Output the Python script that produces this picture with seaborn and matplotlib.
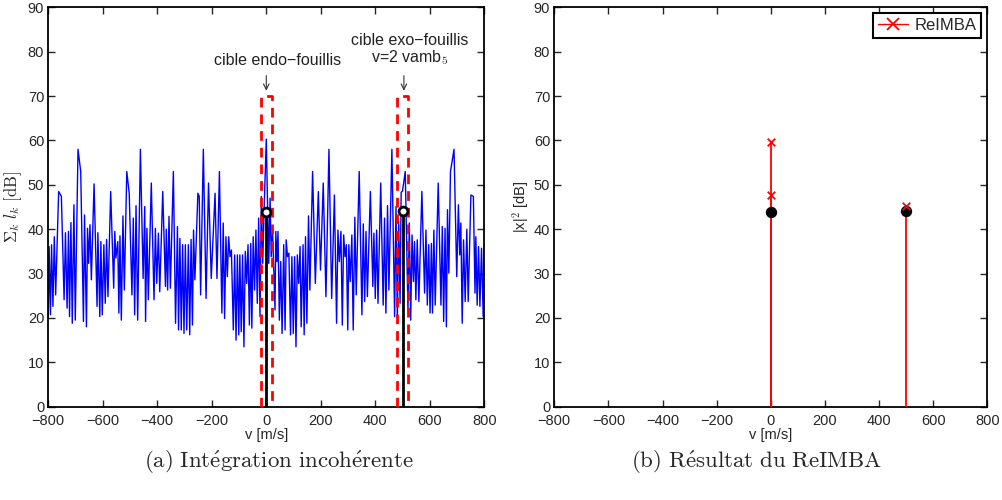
import numpy as np
import pandas as pd
import matplotlib
matplotlib.use("Agg")
import matplotlib.pyplot as plt
import seaborn as sns
from matplotlib.lines import Line2D

# ---------------- data ----------------
v_blue = [-800, -797, -792, -788, -783, -778, -773, -762, -752, -742, -737, -731, -726, -722, -717, -712, -706, -701,
          -691, -681, -671, -667, -660, -656, -652, -647, -642, -632, -621, -618, -611, -607, -602, -596, -591, -586,
          -581, -571, -560, -556, -552, -545, -541, -537, -532, -526, -521, -512, -503, -493, -488, -483, -478, -472,
          -462, -452, -446, -443, -438, -433, -422, -412, -407, -402, -396, -391, -380,
          -370, -367, -362, -357, -352, -341, -333, -326, -322, -317, -312, -307, -302, -297, -292, -286, -281, -276,
          -271, -267, -262, -251, -246, -241, -231, -221, -212, -202, -188, -181, -172, -163, -158, -153, -148, -143,
          -138, -133, -128, -121, -116, -111, -106, -101, -97, -92, -87, -82, -77, -72, -67, -62, -57, -53, -48, -43,
          -38, -33, -28, -23, -18, -13, -8, 0, 9, 14, 18, 23,
          32, 35, 39, 43, 48, 53, 58, 64, 69, 73, 78, 83, 89, 94, 99, 104, 109, 114, 119, 124, 128, 135, 139, 144, 149,
          155, 160, 170, 180, 191, 199, 209, 219, 230, 240, 250, 258, 263, 268, 274, 279, 284, 289, 294, 299, 303, 308,
          314, 319, 325, 330, 341, 351, 356, 361, 366, 371, 382, 391, 395, 400, 405, 410, 420, 429, 434, 439, 445, 450,
          461,
          471, 476, 481, 486, 491, 495, 500, 510, 520, 525, 530, 535, 540, 544, 549, 554, 560, 571, 581, 586, 591, 596,
          601, 606, 610, 615, 620, 631, 641, 646, 651, 656, 661, 665, 670, 676, 689, 699, 705, 710, 714, 719, 724, 730,
          736, 741, 751, 760, 766, 769, 774, 779, 784, 790, 796, 800]
db_blue = [20.3, 36.1, 20.7, 36.5, 22.6, 38.3, 25.2, 48.5, 47.4, 24.1, 39.2, 22.2, 39.5, 20.3, 41.5, 18.8, 45.5, 19.5,
           58.0, 53.0, 19.2, 43.2, 18.0, 40.2, 32.3, 41.0, 28.6, 50.2, 22.6, 39.2, 20.3, 37.2, 20.7, 36.5, 23.3, 37.7,
           24.8, 48.5, 26.7, 39.5, 33.5, 37.2, 21.1, 38.5, 19.5, 43.0, 26.3, 53.0, 48.1, 25.2, 42.5, 20.7, 45.3, 19.5,
           58.0, 28.9, 45.1, 19.2, 40.2, 24.1, 50.4, 24.1, 40.2, 27.8, 39.1, 25.9, 48.5,
           27.1, 40.0, 26.3, 42.9, 26.7, 53.0, 18.8, 40.6, 17.3, 37.9, 17.3, 36.5, 16.5, 36.5, 17.3, 36.5, 16.2, 37.7,
           18.4, 39.8, 28.6, 48.1, 47.4, 25.2, 58.0, 24.4, 50.4, 28.9, 48.1, 28.9, 53.0, 21.1, 41.4, 19.9, 38.3, 29.3,
           38.3, 33.8, 35.3, 17.3, 34.2, 15.0, 34.2, 16.2, 34.2, 16.9, 34.2, 13.5, 35.0, 27.8, 36.5, 18.4, 36.8, 17.7,
           38.3, 26.3, 39.8, 23.3, 42.5, 20.3, 47.4, 32.3, 44.4, 60.3, 32.3, 47.0, 33.8, 39.8,
           21.8, 39.5, 32.7, 39.5, 19.5, 32.7, 16.5, 36.5, 17.3, 37.6, 33.8, 34.6, 16.2, 33.8, 16.5, 33.8, 13.5, 34.2,
           27.8, 36.1, 18.0, 36.5, 16.2, 38.3, 18.8, 43.0, 26.3, 53.0, 27.8, 48.5, 30.8, 50.4, 24.8, 58.0, 24.4, 47.7,
           18.8, 39.8, 32.7, 39.5, 18.4, 38.7, 33.8, 36.5, 17.3, 36.5, 28.2, 38.7, 17.3, 42.7, 25.2, 53.0, 20.7, 41.2,
           23.7, 39.5, 24.8, 48.5, 27.1, 39.1, 24.4, 39.8, 23.3, 50.4, 22.9, 42.5, 21.1, 45.3, 26.3, 58.0,
           20.3, 45.1, 19.9, 41.7, 23.3, 48.3, 48.6, 53.0, 21.8, 41.4, 19.5, 38.7, 28.2, 37.2, 24.1, 37.6, 23.7, 48.5,
           25.6, 39.8, 22.9, 36.5, 21.1, 36.8, 21.1, 39.8, 22.9, 50.4, 22.9, 40.6, 19.2, 40.2, 18.0, 44.4, 30.1, 53.0,
           58.0, 29.3, 45.5, 34.2, 41.4, 18.8, 37.6, 23.7, 40.0, 23.7, 47.7, 47.4, 25.6, 38.3, 22.9, 36.1, 22.6, 35.7,
           20.3, 36.1]

target_v = [0, 500]
target_db = [43.8, 44.2]

window_centers = [0, 500]
window_halfwidth = 20
window_top = 70

reimba_v = [0, 0, 500]
reimba_db = [59.7, 47.7, 45.2]

x_ticks = [-800, -600, -400, -200, 0, 200, 400, 600, 800]
y_ticks = [0, 10, 20, 30, 40, 50, 60, 70, 80, 90]

captions = ["(a) Int\\acute{e}gration incoh\\acute{e}rente", "(b) R\\acute{e}sultat du ReIMBA"]

# ---------------- style ----------------
sns.set_style("ticks")
plt.rcParams["font.family"] = ["Liberation Sans", "DejaVu Sans"]
plt.rcParams["mathtext.fontset"] = "cm"
plt.rcParams["axes.unicode_minus"] = True

fig = plt.figure(figsize=(10.02, 5.0), dpi=100)
fig.patch.set_facecolor("white")
ax1 = fig.add_axes([0.0482, 0.1866, 0.4351, 0.7988])
ax2 = fig.add_axes([0.5532, 0.1866, 0.4321, 0.7988])

df = pd.DataFrame({"v": v_blue, "db": db_blue})
sns.lineplot(data=df, x="v", y="db", ax=ax1, color="#0000ff", linewidth=1.0,
             sort=False, estimator=None)

# red dashed windows
for c in window_centers:
    ax1.plot([c - window_halfwidth, c - window_halfwidth, c + window_halfwidth, c + window_halfwidth],
             [0, window_top, window_top, 0], color="#ff0000", linestyle=(0, (3.5, 2.5)), linewidth=2.0, zorder=3)

# black stems with open circles
for v, d in zip(target_v, target_db):
    ax1.plot([v, v], [0, d], color="black", linewidth=2.0, zorder=4)
ax1.scatter(target_v, target_db, s=40, facecolors="white", edgecolors="black", linewidths=2.0, zorder=5)

# annotations
ax1.text(40, 78, "cible endo\u2212fouillis", ha="center", va="center", fontsize=11.5, color="#222222")
ax1.text(527, 80.3, "cible exo\u2212fouillis\nv=2 vamb$_5$", ha="center", va="center", fontsize=11.5,
         color="#222222", linespacing=1.0)
ax1.annotate("", xy=(0, 71.2), xytext=(0, 74.6),
             arrowprops=dict(arrowstyle="->", lw=0.8, color="#333333", shrinkA=0, shrinkB=0))
ax1.annotate("", xy=(505, 71.2), xytext=(505, 74.6),
             arrowprops=dict(arrowstyle="->", lw=0.8, color="#333333", shrinkA=0, shrinkB=0))

# right plot: stems
for v, d in zip(reimba_v, reimba_db):
    ax2.plot([v, v], [0, d], color="#ff0000", linewidth=1.3, zorder=3)
ax2.scatter(target_v, target_db, s=38, color="black", edgecolors="black", linewidths=2.0, zorder=4)
sns.scatterplot(x=reimba_v, y=reimba_db, ax=ax2, marker="x", color="#ff0000", s=30, linewidth=1.3, zorder=5)
h = Line2D([0], [0], color="#ff0000", marker="x", markersize=8, linewidth=1.0, markeredgewidth=1.3)
leg = ax2.legend([h], ["ReIMBA"], loc="upper right", fontsize=12, frameon=True, fancybox=False,
                 framealpha=1, edgecolor="black", borderaxespad=0.35, handlelength=1.8,
                 handletextpad=0.4, borderpad=0.3, markerfirst=True)
leg.get_frame().set_linewidth(1.5)

for ax in (ax1, ax2):
    ax.set_xlim(-800, 800)
    ax.set_ylim(0, 90)
    ax.set_xticks(x_ticks)
    ax.set_yticks(y_ticks)
    ax.tick_params(direction="in", top=True, right=True, length=5, width=1.0, labelsize=10.5)
    ax.tick_params(axis="x", pad=5)
    ax.tick_params(axis="y", pad=3)
    for s in ax.spines.values():
        s.set_visible(True)
        s.set_linewidth(1.3)
        s.set_color("black")
    ax.set_xlabel("v [m/s]", fontsize=10.5, labelpad=0)
    ax.set_facecolor("white")

ax1.set_ylabel(r"$\Sigma_k\ l_k\ [\mathrm{dB}]$", fontsize=12, labelpad=3)
ax2.set_ylabel(r"|x|$^2$ [dB]", fontsize=10.5, labelpad=2)

fig.text(279 / 1002, 1 - 462 / 500, r"$\mathrm{" + captions[0].replace(" ", r"\ ") + "}$",
         ha="center", va="center", fontsize=16.5)
fig.text(757 / 1002, 1 - 462 / 500, r"$\mathrm{" + captions[1].replace(" ", r"\ ") + "}$",
         ha="center", va="center", fontsize=16.5)

fig.savefig("out.png", dpi=100, facecolor="white")
